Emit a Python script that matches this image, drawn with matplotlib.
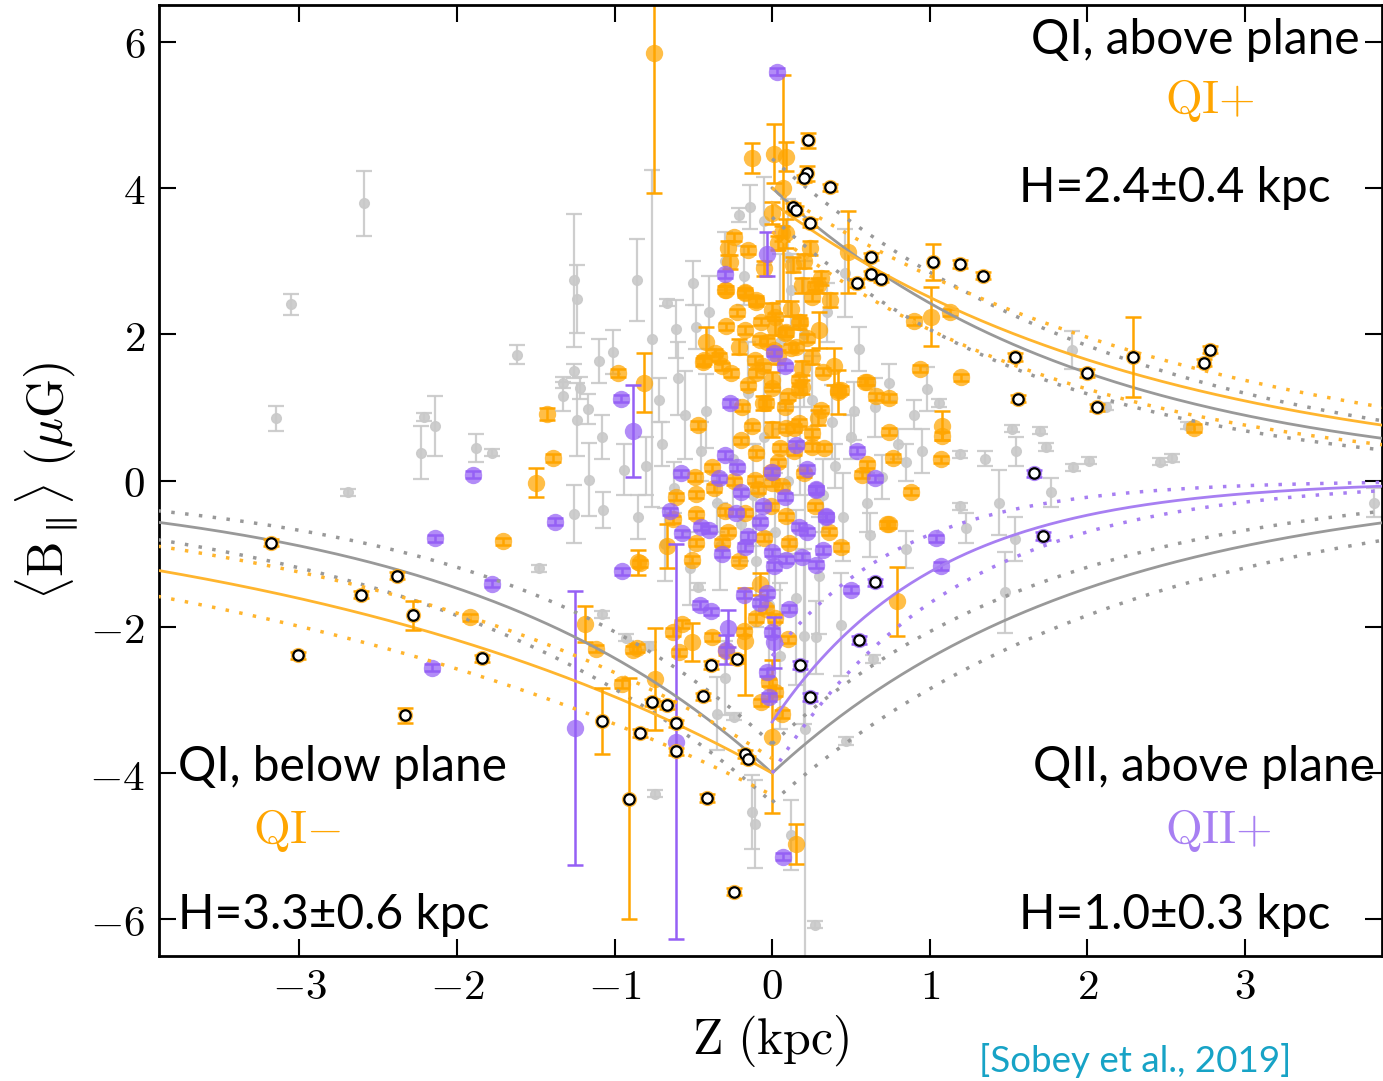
import numpy as np
import matplotlib
matplotlib.use('Agg')
import matplotlib.pyplot as plt

plt.rcParams['mathtext.fontset'] = 'cm'
plt.rcParams['font.family'] = ['DejaVu Serif']

# (Z [kpc], <B_par> [uG], error)
grey_pts = [
    (-2.59, 3.79, 0.44), (-3.05, 2.41, 0.14), (-3.15, 0.85, 0.17), (-2.69, -0.16, 0.05),
    (-1.62, 1.72, 0.13), (-2.21, 0.87, 0.05), (-2.14, 0.75, 0.41), (-2.23, 0.38, 0.36),
    (-1.88, 0.44, 0.19), (-1.78, 0.38, 0.05), (-1.48, -1.20, 0.05), (-1.26, 2.74, 0.91),
    (-1.24, 2.48, 0.46), (-1.33, 1.34, 0.08), (-1.33, 1.15, 0.20), (-1.26, 1.50, 0.10),
    (-1.22, 1.27, 0.15), (-1.17, 0.98, 0.20), (-1.24, 0.83, 0.50), (-1.10, 1.64, 0.30),
    (-1.08, 0.60, 0.30), (-0.94, 0.15, 0.35), (-1.16, 0.01, 0.50), (-1.26, -0.46, 0.40),
    (-1.07, -0.40, 0.25), (-0.68, -0.87, 0.50), (-0.86, 2.74, 0.56), (-0.67, 2.43, 0.05),
    (-0.61, 2.07, 0.40), (-0.76, 1.94, 2.30), (-1.01, 1.76, 0.30), (-0.21, 3.63, 0.10),
    (-0.14, 3.74, 0.30), (0.46, 2.84, 0.60), (0.74, 1.34, 0.25), (1.06, 1.06, 0.05),
    (0.98, 1.25, 0.30), (1.90, 1.78, 0.26), (2.01, 0.27, 0.05), (1.91, 0.18, 0.05),
    (2.46, 0.26, 0.05), (2.54, 0.31, 0.05), (1.55, 0.40, 0.20), (1.52, 0.71, 0.05),
    (1.70, 0.68, 0.05), (1.74, 0.46, 0.05), (2.12, 1.01, 0.05), (1.19, 0.36, 0.05),
    (2.64, 0.75, 0.05), (3.82, -0.30, 0.20), (1.48, -1.53, 0.55), (1.77, -0.16, 0.20),
    (1.44, -0.30, 0.45), (1.54, -0.80, 0.30), (1.23, -0.65, 0.20), (1.19, -0.35, 0.05),
    (0.85, -0.94, 0.25), (0.47, -3.56, 0.05), (0.64, -2.44, 0.05), (0.44, -1.97, 0.70),
    (0.20, -2.13, 1.20), (0.28, -2.14, 0.50), (-0.35, -3.19, 0.50), (-0.24, -3.23, 0.05),
    (-0.74, -4.28, 0.05), (-0.13, -4.53, 0.50), (-0.11, -4.70, 0.60), (0.12, -4.85, 0.48),
    (0.27, -6.07, 0.05), (0.21, -3.40, 3.60), (-0.78, -2.26, 0.05), (-0.47, -1.45, 0.05),
    (-0.93, -2.15, 0.05), (-1.08, -1.83, 0.05),
    (-0.50, 2.70, 0.30), (-0.40, 2.30, 0.50), (-0.30, 3.00, 0.40), (-0.05, 3.55, 0.60),
    (0.10, 3.05, 0.80), (0.20, 2.00, 1.00), (0.35, 2.30, 0.40), (0.55, 1.80, 0.30),
    (0.65, 1.00, 0.40), (0.50, 0.60, 0.30), (0.80, 0.50, 0.20), (0.95, 0.40, 0.30),
    (0.60, -0.30, 0.40), (0.45, -0.50, 0.60), (0.30, -1.30, 0.80), (0.15, -1.60, 1.20),
    (-0.10, -1.10, 0.90), (-0.20, -0.60, 0.50), (-0.35, -0.30, 0.40), (-0.45, 0.40, 0.40),
    (-0.55, 0.90, 0.60), (-0.60, 1.40, 0.50), (-0.70, 0.50, 0.30), (-0.80, 0.20, 0.40),
    (-0.85, -0.50, 0.30), (-0.52, -1.20, 0.50), (-0.30, -2.70, 0.50), (0.05, -2.40, 1.00),
    (-0.05, 0.60, 1.00), (0.05, 1.90, 1.20), (-0.15, 1.20, 0.70), (0.25, 1.10, 0.60),
    (0.40, 0.20, 0.30), (0.70, 0.05, 0.30), (0.90, 0.90, 0.20), (1.35, 0.30, 0.10),
    (-0.25, 0.30, 0.80), (0.10, 0.00, 1.00),
    (-0.42, 0.95, 0.50), (-0.33, -0.90, 0.60), (-0.12, -0.20, 0.70), (0.02, -0.70, 0.80),
    (0.18, 0.50, 0.70), (0.32, -0.20, 0.50), (0.52, 0.95, 0.40), (-0.62, -0.10, 0.35),
    (-0.48, 2.10, 0.30), (0.12, 2.60, 0.50), (-0.18, 2.80, 0.40), (0.38, 0.80, 0.50),
    (0.62, -0.75, 0.30), (-0.72, 1.10, 0.30), (0.85, 0.25, 0.25), (-0.02, -1.70, 1.00),
]

orange_pts = [
    (-0.75, 5.85, 1.92), (-0.13, 4.41, 0.21), (0.01, 4.47, 0.40), (0.07, 4.00, 1.55),
    (0.09, 4.43, 0.20), (0.00, 3.66, 0.15), (0.06, 3.38, 0.10), (0.24, 3.18, 0.10),
    (0.19, 2.67, 0.10), (0.29, 2.67, 0.10), (0.25, 2.51, 0.05), (0.37, 2.47, 0.10),
    (0.48, 3.12, 0.56), (0.90, 2.18, 0.05), (1.01, 2.24, 0.40), (1.13, 2.30, 0.05),
    (0.94, 1.53, 0.05), (1.20, 1.41, 0.05), (1.08, 0.75, 0.20), (1.08, 0.61, 0.05),
    (1.07, 0.29, 0.05), (2.68, 0.72, 0.05), (0.88, -0.15, 0.05), (0.74, 1.13, 0.05),
    (0.59, 1.35, 0.05), (0.42, 1.21, 0.30), (0.39, 1.56, 0.25), (0.30, 2.06, 0.25),
    (0.17, 2.17, 0.10), (-0.98, 1.47, 0.05), (-0.81, 1.34, 0.40), (-0.47, 0.76, 0.05),
    (-0.42, 1.90, 0.20), (-0.43, 1.65, 0.05), (-0.29, 2.11, 0.05), (-0.29, 2.61, 0.05),
    (-0.24, 3.33, 0.05), (-0.28, 3.18, 0.10), (-0.15, 3.15, 0.05), (-0.27, 2.99, 0.10),
    (-0.17, 2.56, 0.05), (-0.10, 2.47, 0.05), (0.00, 2.33, 0.10), (-0.07, 2.17, 0.05),
    (0.02, 2.09, 0.10), (0.08, 2.02, 0.05), (-0.17, 2.06, 0.05), (-0.08, 1.92, 0.05),
    (-0.21, 1.83, 0.10), (-0.34, 1.69, 0.05), (-0.11, 1.65, 0.05), (0.04, 1.69, 0.10),
    (0.12, 1.81, 0.05), (0.25, 1.69, 0.10), (-0.26, 1.47, 0.05), (-0.10, 1.47, 0.05),
    (0.00, 1.38, 0.10), (0.17, 1.38, 0.05), (-0.19, 1.00, 0.05), (-0.06, 1.06, 0.10),
    (0.08, 1.01, 0.05), (0.19, 1.28, 0.10), (-0.13, 0.74, 0.05), (0.00, 0.70, 0.10),
    (0.14, 0.72, 0.05), (0.29, 0.86, 0.10), (0.44, 1.24, 0.05), (0.66, 1.15, 0.05),
    (0.13, 2.95, 0.10), (0.04, 3.25, 0.10), (0.09, 3.38, 0.20), (0.27, 2.66, 0.05),
    (0.31, 2.77, 0.10), (-0.30, 2.61, 0.05), (-0.17, 2.58, 0.05), (-0.10, 2.44, 0.05),
    (0.02, 2.24, 0.05), (0.18, 2.17, 0.05), (0.09, 2.03, 0.05), (-0.36, 1.75, 0.05),
    (0.01, 1.79, 0.05), (0.15, 1.83, 0.05), (-0.44, 1.62, 0.05), (-0.32, 1.56, 0.05),
    (-0.06, 1.56, 0.05), (0.19, 1.54, 0.10), (0.32, 1.49, 0.05), (0.60, 1.35, 0.05),
    (-0.04, 1.06, 0.05), (0.00, 1.27, 0.05), (0.17, 1.24, 0.05), (0.31, 0.97, 0.05),
    (0.42, 1.24, 0.05), (0.74, 0.67, 0.05), (0.77, 0.31, 0.05), (0.09, 0.72, 0.05),
    (0.17, 0.79, 0.05), (0.25, 0.65, 0.05), (0.33, 0.45, 0.05), (-0.10, 0.37, 0.05),
    (0.04, 0.25, 0.05), (-0.38, 0.18, 0.05), (-0.49, 0.05, 0.05), (-0.61, -0.22, 0.05),
    (-0.48, -0.19, 0.05), (-0.37, -0.10, 0.05), (-0.24, -0.01, 0.05), (-0.11, 0.01, 0.05),
    (-0.01, 0.12, 0.05), (0.00, -0.03, 0.05), (-0.09, -0.12, 0.05), (0.06, -0.08, 0.05),
    (0.14, 0.40, 0.05), (0.25, 0.46, 0.05), (0.57, 0.08, 0.05), (0.60, 0.22, 0.05),
    (-0.30, -0.42, 0.05), (-0.17, -0.44, 0.05), (-0.01, -0.35, 0.05), (0.09, -0.49, 0.05),
    (0.27, -0.35, 0.05), (0.36, -0.70, 0.05), (0.73, -0.60, 0.05), (-0.63, -0.53, 0.05),
    (-0.48, -0.46, 0.05), (-0.48, -0.85, 0.05), (-0.67, -0.90, 0.30), (-0.51, -1.08, 0.05),
    (-0.32, -0.85, 0.05), (-0.21, -1.10, 0.05), (-0.05, -0.78, 0.05), (0.11, -0.85, 0.05),
    (0.44, -0.91, 0.05), (-0.08, -1.42, 0.15), (-0.10, -1.88, 0.05), (0.02, -1.88, 0.05),
    (-0.18, -2.06, 0.05), (-0.04, -1.76, 0.05), (0.10, -2.17, 0.05), (-0.57, -1.96, 0.05),
    (-0.63, -2.07, 0.05), (-0.51, -2.21, 0.26), (-0.59, -2.35, 0.05), (-0.38, -2.14, 0.05),
    (-0.88, -2.31, 0.05), (-0.29, -2.33, 0.05), (-0.74, -2.71, 0.70), (-0.95, -2.78, 0.05),
    (-0.02, -2.76, 0.05), (0.02, -2.89, 0.05), (-0.07, -3.03, 0.05), (0.06, -3.19, 0.05),
    (0.00, -3.50, 1.05), (0.79, -1.65, 0.47), (-0.84, -1.13, 0.05), (-0.86, -2.29, 0.05),
    (0.15, -4.97, 0.27), (-1.43, 0.91, 0.08), (-1.39, 0.31, 0.05), (-1.50, -0.03, 0.20),
    (-1.71, -0.83, 0.05), (-0.85, -1.12, 0.17), (-1.92, -1.87, 0.05), (-1.19, -1.96, 0.25),
    (-1.12, -2.30, 0.05), (0.74, -0.60, 0.05), (-0.17, -2.20, 0.73),
    (-0.05, 2.90, 0.10), (0.20, 3.00, 0.10), (-0.22, 2.30, 0.05), (0.12, 2.35, 0.10),
    (-0.03, 1.90, 0.05), (0.22, 1.95, 0.05), (-0.15, 1.30, 0.05), (0.10, 1.15, 0.05),
    (0.05, 0.45, 0.05), (-0.20, 0.55, 0.05), (0.20, 0.10, 0.05), (-0.28, -0.70, 0.05),
]

purple_pts = [
    (0.03, 5.59, 0.05), (-0.03, 3.10, 0.30), (-0.30, 2.82, 0.05), (0.08, 1.56, 0.05),
    (0.01, 1.75, 0.05), (-0.27, 1.06, 0.05), (0.15, 0.49, 0.05), (0.54, 0.41, 0.05),
    (-0.30, 0.35, 0.05), (-0.22, 0.18, 0.05), (-0.58, 0.10, 0.05), (-0.34, 0.03, 0.05),
    (0.22, 0.16, 0.05), (0.00, 0.12, 0.05), (0.65, 0.03, 0.05), (-0.20, -0.16, 0.05),
    (0.28, -0.12, 0.05), (0.08, -0.22, 0.05), (-0.06, -0.35, 0.05), (-0.65, -0.42, 0.05),
    (-0.23, -0.44, 0.05), (0.34, -0.49, 0.05), (-0.45, -0.63, 0.05), (-0.40, -0.67, 0.05),
    (-0.08, -0.56, 0.05), (0.22, -0.70, 0.05), (0.17, -0.63, 0.05), (-0.57, -0.72, 0.05),
    (-0.15, -0.76, 0.05), (-0.17, -0.91, 0.05), (0.32, -0.95, 0.05), (-0.32, -1.00, 0.05),
    (0.00, -0.98, 0.05), (0.09, -1.08, 0.05), (0.19, -1.04, 0.05), (0.28, -1.15, 0.05),
    (0.01, -1.17, 0.05), (-0.18, -1.56, 0.05), (-0.08, -1.67, 0.05), (-0.03, -1.54, 0.05),
    (0.11, -1.75, 0.05), (-0.39, -1.79, 0.05), (-0.28, -2.02, 0.25), (-0.29, -2.31, 0.20),
    (0.00, -2.07, 0.05), (0.01, -2.21, 0.35), (-0.03, -2.62, 0.05), (-0.02, -2.96, 0.05),
    (0.50, -1.49, 0.05), (-0.95, -1.24, 0.05), (-0.61, -3.57, 2.70), (-1.25, -3.38, 1.87),
    (-0.88, 0.68, 0.63), (0.07, -5.14, 0.05), (-1.90, 0.08, 0.05), (-1.38, -0.56, 0.05),
    (-2.14, -0.79, 0.05), (-1.78, -1.41, 0.05), (-0.96, 1.12, 0.05), (-2.16, -2.56, 0.05),
    (1.04, -0.79, 0.05), (1.07, -1.17, 0.05), (0.28, -0.13, 0.05), (0.34, -0.50, 0.05),
    (-0.46, -1.70, 0.05),
]

# sources with open markers (halo colour = quadrant sample)
open_orange_pts = [
    (0.23, 4.65, 0.10), (0.22, 4.20, 0.10), (0.20, 4.13, 0.05), (0.37, 4.01, 0.05),
    (0.13, 3.74, 0.05), (0.15, 3.70, 0.05), (0.24, 3.52, 0.05), (0.63, 3.06, 0.05),
    (0.63, 2.82, 0.05), (0.69, 2.76, 0.05), (0.54, 2.70, 0.05), (1.02, 2.99, 0.25),
    (1.19, 2.96, 0.05), (1.34, 2.80, 0.05), (1.54, 1.69, 0.05), (1.56, 1.12, 0.05),
    (2.00, 1.47, 0.05), (2.29, 1.69, 0.55), (2.06, 1.00, 0.05), (2.74, 1.61, 0.05),
    (2.78, 1.79, 0.05),
    (-3.18, -0.85, 0.05), (-3.01, -2.39, 0.05), (-2.61, -1.56, 0.05), (-2.38, -1.30, 0.05),
    (-2.28, -1.84, 0.20), (-2.33, -3.21, 0.10), (-1.84, -2.43, 0.05), (-0.39, -2.52, 0.05),
    (-0.22, -2.44, 0.05), (-0.44, -2.95, 0.05), (-0.76, -3.03, 0.05), (-0.67, -3.07, 0.05),
    (-0.61, -3.32, 0.05), (-0.84, -3.45, 0.05), (-0.61, -3.70, 0.05), (-0.17, -3.74, 0.05),
    (-0.15, -3.81, 0.05), (-1.08, -3.29, 0.45), (-0.91, -4.35, 1.65), (-0.41, -4.34, 0.05),
    (-0.24, -5.62, 0.05),
]
open_purple_pts = [
    (1.66, 0.10, 0.05), (1.72, -0.76, 0.05), (0.65, -1.39, 0.05),
    (0.55, -2.18, 0.05), (0.18, -2.52, 0.05), (0.24, -2.96, 0.05),
]

# exponential scale-height fits: (B0, H)
fit_all = (4.0, 2.0)
fit_all_lo = (3.6, 1.8)
fit_all_hi = (4.4, 2.3)
fit_qi_above = (3.8, 2.4)
fit_qi_above_lo = (3.4, 2.0)
fit_qi_above_hi = (4.0, 2.8)
fit_qi_below = (4.0, 3.3)
fit_qi_below_lo = (3.8, 2.7)
fit_qi_below_hi = (4.3, 3.9)
fit_qii_above = (3.3, 1.03)
fit_qii_above_lo = (2.4, 0.85)
fit_qii_above_hi = (4.0, 1.15)

x_ticks = [-3, -2, -1, 0, 1, 2, 3]
y_ticks = [-6, -4, -2, 0, 2, 4, 6]

ORANGE = '#ffa500'
PURPLE = '#9560f5'
GREY = '#c9c9c9'

fig = plt.figure(figsize=(13.83, 10.81), dpi=100)
ax = fig.add_axes([0.115, 0.1156, 0.8843, 0.8797])


def unpack(pts):
    a = np.array(pts)
    return a[:, 0], a[:, 1], a[:, 2]


z, b, e = unpack(grey_pts)
ax.errorbar(z, b, yerr=e, fmt='o', ms=7, color=GREY, mec=GREY, ecolor=GREY,
            elinewidth=1.6, capsize=5.5, capthick=1.6, alpha=0.9, zorder=1)

for pts, col in [(orange_pts, ORANGE), (purple_pts, PURPLE)]:
    z, b, e = unpack(pts)
    ax.errorbar(z, b, yerr=e, fmt='none', ecolor=col, elinewidth=1.8,
                capsize=6, capthick=1.8, zorder=2)
    ax.plot(z, b, 'o', ms=12.5, color=col, mec='none', alpha=0.72, zorder=2)

# fitted curves
zp = np.linspace(0.0, 3.9, 200)
zn = np.linspace(-3.9, 0.0, 200)


def expo(p, zz):
    return p[0] * np.exp(-np.abs(zz) / p[1])


dot = (0, (1, 3))
lc_grey = '#999999'
lc_orange = '#ffb52e'
lc_purple = '#a77ff2'
for p, ls in [(fit_all, '-'), (fit_all_lo, dot), (fit_all_hi, dot)]:
    lw = 2 if ls == '-' else 2.5
    ax.plot(zp, expo(p, zp), color=lc_grey, lw=lw, ls=ls, zorder=4)
    ax.plot(zn, -expo(p, zn), color=lc_grey, lw=lw, ls=ls, zorder=4)
    ax.plot(zp, -expo(p, zp), color=lc_grey, lw=lw, ls=ls, zorder=4)
for p, ls in [(fit_qi_above, '-'), (fit_qi_above_lo, dot), (fit_qi_above_hi, dot)]:
    ax.plot(zp, expo(p, zp), color=lc_orange, lw=2 if ls == '-' else 2.5, ls=ls, zorder=4)
for p, ls in [(fit_qi_below, '-'), (fit_qi_below_lo, dot), (fit_qi_below_hi, dot)]:
    ax.plot(zn, -expo(p, zn), color=lc_orange, lw=2 if ls == '-' else 2.5, ls=ls, zorder=4)
for p, ls in [(fit_qii_above, '-'), (fit_qii_above_lo, dot), (fit_qii_above_hi, dot)]:
    ax.plot(zp, -expo(p, zp), color=lc_purple, lw=2 if ls == '-' else 2.5, ls=ls, zorder=4)

# open markers
for pts, col in [(open_orange_pts, ORANGE), (open_purple_pts, PURPLE)]:
    z, b, e = unpack(pts)
    ax.errorbar(z, b, yerr=e, fmt='none', ecolor=col, elinewidth=1.8,
                capsize=6, capthick=1.8, zorder=5)
    ax.plot(z, b, 'o', ms=11, color=col, mec='none', alpha=0.75, zorder=5)
    ax.plot(z, b, 'o', ms=7.5, mfc='white', mec='black', mew=1.6, zorder=6)

ax.set_xlim(-3.89, 3.87)
ax.set_ylim(-6.5, 6.5)
ax.set_xticks(x_ticks, labels=[f'${v}$' for v in x_ticks])
ax.set_yticks(y_ticks, labels=[f'${v}$' for v in y_ticks])
ax.tick_params(direction='in', length=12, width=1.5, top=True, right=True,
               labelsize=31, pad=10)
ax.tick_params(axis='x', pad=7)
for s in ax.spines.values():
    s.set_linewidth(2)

ax.set_xlabel(r'$\mathrm{Z\ (kpc)}$', fontsize=36, labelpad=4)
ax.set_ylabel(r'$\langle \mathrm{B}_{{\parallel}}\rangle\ (\mu\mathrm{G})$', fontsize=36, labelpad=6)

sans = 'Lato'
tk = dict(transform=ax.transAxes, fontsize=34.5, family=sans, color='black', va='center')
ax.text(0.982, 0.963, 'QI, above plane', ha='right', **tk)
ax.text(0.958, 0.808, 'H=2.4±0.4 kpc', ha='right', **tk)
ax.text(0.0155, 0.199, 'QI, below plane', ha='left', **tk)
ax.text(0.0155, 0.043, 'H=3.3±0.6 kpc', ha='left', **tk)
ax.text(0.994, 0.199, 'QII, above plane', ha='right', **tk)
ax.text(0.958, 0.043, 'H=1.0±0.3 kpc', ha='right', **tk)

mk = dict(transform=ax.transAxes, fontsize=34, ha='center', va='center')
ax.text(0.859, 0.900, r'$\mathrm{QI}{+}$', color=ORANGE, **mk)
ax.text(0.113, 0.132, r'$\mathrm{QI}{-}$', color=ORANGE, **mk)
ax.text(0.866, 0.132, r'$\mathrm{QII}{+}$', color=lc_purple, **mk)

fig.text(0.821, 0.019, '[Sobey et al., 2019]', family=sans, fontsize=26.5,
         color='#17a3c6', ha='center', va='center')

fig.savefig('out.png', dpi=100)
